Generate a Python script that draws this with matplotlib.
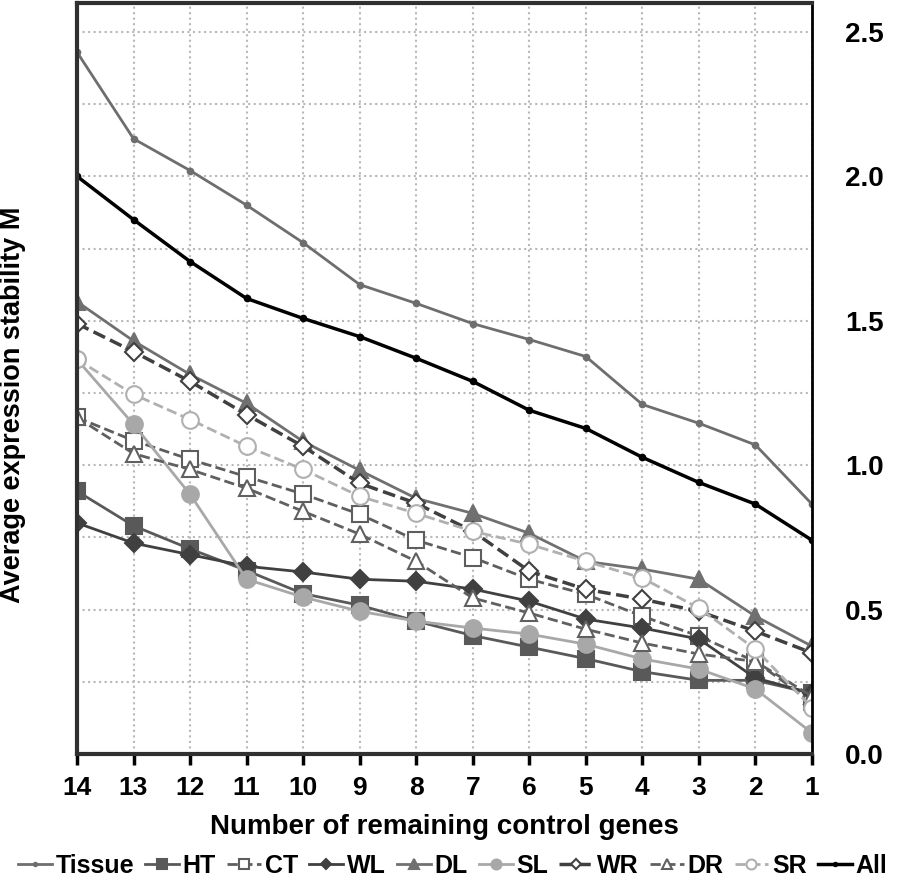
import numpy as np
import matplotlib.pyplot as plt

plt.rcParams['font.family'] = ['Liberation Sans', 'DejaVu Sans']
plt.rcParams['font.weight'] = 'bold'

geni = [14, 13, 12, 11, 10, 9, 8, 7, 6, 5, 4, 3, 2, 1]

tissue = [2.43, 2.13, 2.02, 1.90, 1.77, 1.625, 1.56, 1.49, 1.435, 1.376, 1.21, 1.145, 1.07, 0.865]
ht = [0.91, 0.79, 0.71, 0.635, 0.555, 0.515, 0.46, 0.41, 0.37, 0.33, 0.285, 0.255, 0.255, 0.21]
ct = [1.165, 1.085, 1.02, 0.96, 0.90, 0.83, 0.74, 0.68, 0.605, 0.553, 0.477, 0.408, 0.32, 0.18]
wl = [0.80, 0.73, 0.69, 0.65, 0.63, 0.605, 0.598, 0.571, 0.529, 0.467, 0.436, 0.398, 0.263, 0.21]
dl = [1.566, 1.43, 1.314, 1.214, 1.082, 0.982, 0.885, 0.833, 0.764, 0.667, 0.64, 0.605, 0.477, 0.373]
sl = [1.366, 1.141, 0.899, 0.605, 0.543, 0.494, 0.46, 0.436, 0.415, 0.38, 0.329, 0.294, 0.225, 0.073]
wr = [1.49, 1.393, 1.29, 1.175, 1.065, 0.937, 0.868, 0.771, 0.633, 0.57, 0.536, 0.494, 0.425, 0.35]
dr = [1.165, 1.04, 0.985, 0.92, 0.84, 0.761, 0.667, 0.54, 0.488, 0.432, 0.384, 0.346, 0.32, 0.2]
sr = [1.366, 1.245, 1.158, 1.065, 0.985, 0.892, 0.833, 0.771, 0.726, 0.667, 0.609, 0.505, 0.363, 0.16]
all_ = [2.0, 1.85, 1.705, 1.577, 1.508, 1.445, 1.37, 1.29, 1.19, 1.127, 1.027, 0.94, 0.865, 0.74]

serije = [
    ("Tissue", tissue, dict(color="#6e6e6e", ls="-", lw=2, marker="o", ms=4, mfc="#6e6e6e")),
    ("HT", ht, dict(color="#595959", ls="-", lw=2, marker="s", ms=11, mfc="#595959")),
    ("CT", ct, dict(color="#5e5e5e", ls="--", lw=2, marker="s", ms=11, mfc="white")),
    ("WL", wl, dict(color="#404040", ls="-", lw=2, marker="D", ms=9, mfc="#404040")),
    ("DL", dl, dict(color="#707070", ls="-", lw=2, marker="^", ms=12, mfc="#707070")),
    ("SL", sl, dict(color="#a8a8a8", ls="-", lw=2, marker="o", ms=12, mfc="#a8a8a8")),
    ("WR", wr, dict(color="#404040", ls="--", lw=2.5, marker="D", ms=9, mfc="white")),
    ("DR", dr, dict(color="#606060", ls="--", lw=2, marker="^", ms=12, mfc="white")),
    ("SR", sr, dict(color="#b0b0b0", ls="--", lw=2, marker="o", ms=12, mfc="white")),
    ("All", all_, dict(color="#000000", ls="-", lw=2.5, marker="o", ms=4, mfc="#000000")),
]

fig = plt.figure(figsize=(9.05, 8.83), dpi=100)
ax = fig.add_axes([77 / 905, 1 - 754 / 883, 735 / 905, 751 / 883])

for ime, y, stil in serije:
    ax.plot(geni, y, label=ime, mew=1.5, mec=stil["color"], **stil)

ax.set_xlim(14, 1)
ax.set_ylim(0, 2.6)
ax.set_xticks(geni)
ax.set_xticklabels([str(g) for g in geni], fontsize=19, fontweight='bold')
ax.yaxis.tick_right()
ax.set_yticks([0, 0.5, 1.0, 1.5, 2.0, 2.5])
ax.set_yticklabels(["0.0", "0.5", "1.0", "1.5", "2.0", "2.5"], fontsize=20, fontweight='bold')
ax.set_yticks(np.arange(0.25, 2.5, 0.5), minor=True)
ax.tick_params(axis='y', which='both', length=0, pad=24)
ax.tick_params(axis='x', length=8, width=2.5, direction='out', pad=8)
ax.grid(True, which='both', color='#b8b8b8', ls=':', lw=1.5)
ax.set_axisbelow(True)

for s in ax.spines.values():
    s.set_linewidth(3)
    s.set_color('#303030')
ax.spines['right'].set_linewidth(2)
ax.spines['right'].set_color('black')

ax.set_ylabel("Average expression stability M", fontsize=19.5, fontweight='bold')
ax.yaxis.set_label_position('left')
ax.yaxis.set_label_coords(-0.069, 0.465)
ax.set_xlabel("Number of remaining control genes", fontsize=20, fontweight='bold', labelpad=10)

leg = fig.legend(loc='center', bbox_to_anchor=(0.5, 1 - 866 / 883), ncol=10, frameon=False,
                 fontsize=18, handlelength=1.35, handletextpad=0.15, columnspacing=0.45,
                 markerscale=0.6, borderaxespad=0, borderpad=0)

fig.savefig("out.png", dpi=100)
